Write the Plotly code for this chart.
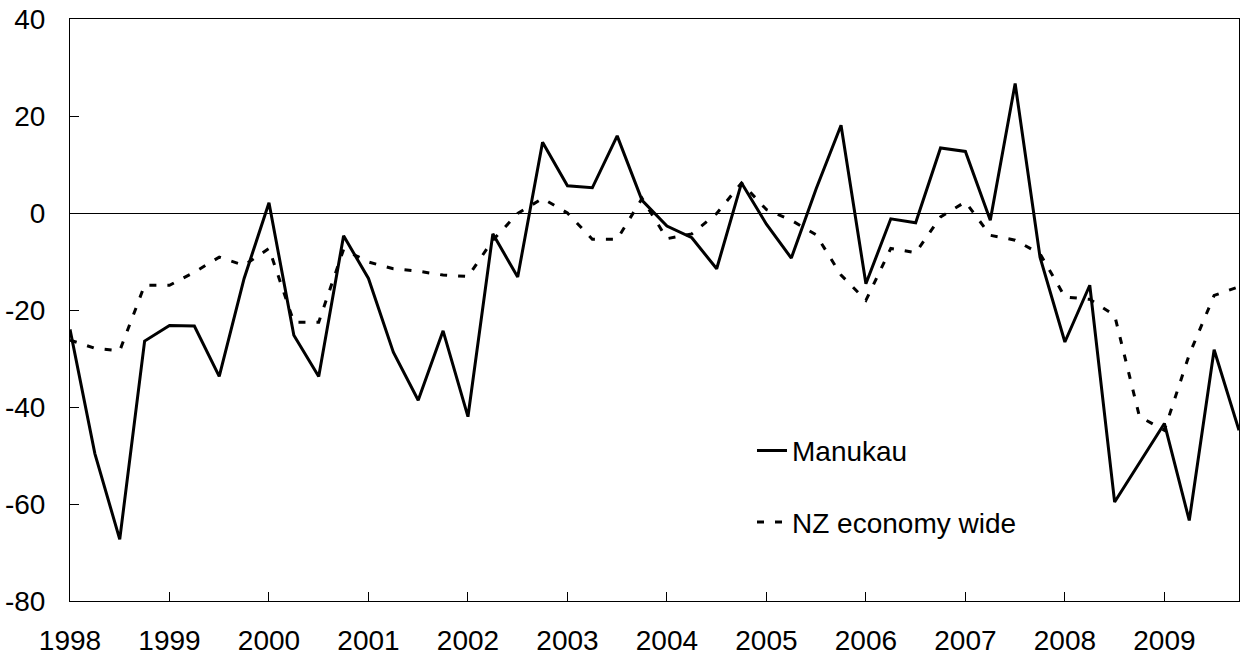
import plotly.graph_objects as go

start_year = 1998
n_quarters = 48
quarters = [start_year + 0.25 * i for i in range(n_quarters)]

manukau = [-24.0, -49.6, -67.3, -26.4,
           -23.2, -23.3, -33.7, -13.5,
           2.1, -25.2, -33.7, -4.7,
           -13.5, -28.7, -38.6, -24.3,
           -42.0, -4.3, -13.2, 14.6,
           5.6, 5.2, 15.9, 2.6,
           -2.7, -5.1, -11.5, 6.2,
           -2.3, -9.3, 5.0, 18.1,
           -14.6, -1.2, -2.0, 13.4,
           12.7, -1.5, 26.7, -9.1,
           -26.6, -14.9, -59.6, -51.5,
           -43.4, -63.4, -28.2, -44.8]

nz_economy = [-26.2, -27.9, -28.4, -14.9,
              -14.9, -12.2, -9.1, -10.8,
              -7.3, -22.5, -22.5, -7.5,
              -10.1, -11.5, -12.0, -12.8,
              -13.1, -5.6, -0.1, 3.0,
              0.0, -5.4, -5.4, 3.0,
              -5.3, -4.3, -0.1, 6.2,
              0.7, -1.5, -4.5, -12.8,
              -18.0, -7.3, -8.2, -0.8,
              2.3, -4.6, -5.6, -8.4,
              -17.3, -17.8, -21.1, -42.0,
              -44.8, -29.2, -17.0, -15.2]

x_ticks = list(range(1998, 2010))
x_labels = [str(v) for v in x_ticks]
y_ticks = [-80, -60, -40, -20, 0, 20, 40]
y_labels = ["-80", "-60", "-40", "-20", "0", "20", "40"]

FONT = "Liberation Sans, Arial, sans-serif"

fig = go.Figure()
fig.add_trace(go.Scatter(x=quarters, y=manukau, mode="lines", name="Manukau",
                         legendgroup="a",
                         line=dict(color="black", width=3)))
fig.add_trace(go.Scatter(x=quarters, y=nz_economy, mode="lines", name="NZ economy wide",
                         legendgroup="b",
                         line=dict(color="black", width=3, dash="7px,11px")))

fig.update_layout(
    width=1240, height=659,
    margin=dict(l=70, r=1, t=19, b=58),
    paper_bgcolor="white", plot_bgcolor="white",
    font=dict(family=FONT, size=28, color="black"),
    showlegend=True,
    legend=dict(x=0.5834, y=0.301, xanchor="left", yanchor="top",
                bgcolor="rgba(0,0,0,0)", borderwidth=0,
                tracegroupgap=32, font=dict(size=28)),
    xaxis=dict(range=[1998, 2009.75], tickvals=x_ticks, ticktext=x_labels,
               ticks="inside", ticklen=9, tickwidth=1, tickcolor="black",
               showline=True, linecolor="black", linewidth=1, mirror=True,
               showgrid=False, zeroline=False, ticklabelstandoff=14,
               automargin=False),
    yaxis=dict(range=[-80, 40], tickvals=y_ticks, ticktext=y_labels,
               ticks="inside", ticklen=9, tickwidth=1, tickcolor="black",
               showline=True, linecolor="black", linewidth=1, mirror=True,
               showgrid=False, zeroline=True, zerolinecolor="black", zerolinewidth=1,
               ticklabelstandoff=18, automargin=False),
)

fig.write_html(
    "out.html",
    config={"displayModeBar": False},
    post_script="document.body.style.margin='0';document.body.style.padding='0';"
                "document.documentElement.style.overflow='hidden';",
)
